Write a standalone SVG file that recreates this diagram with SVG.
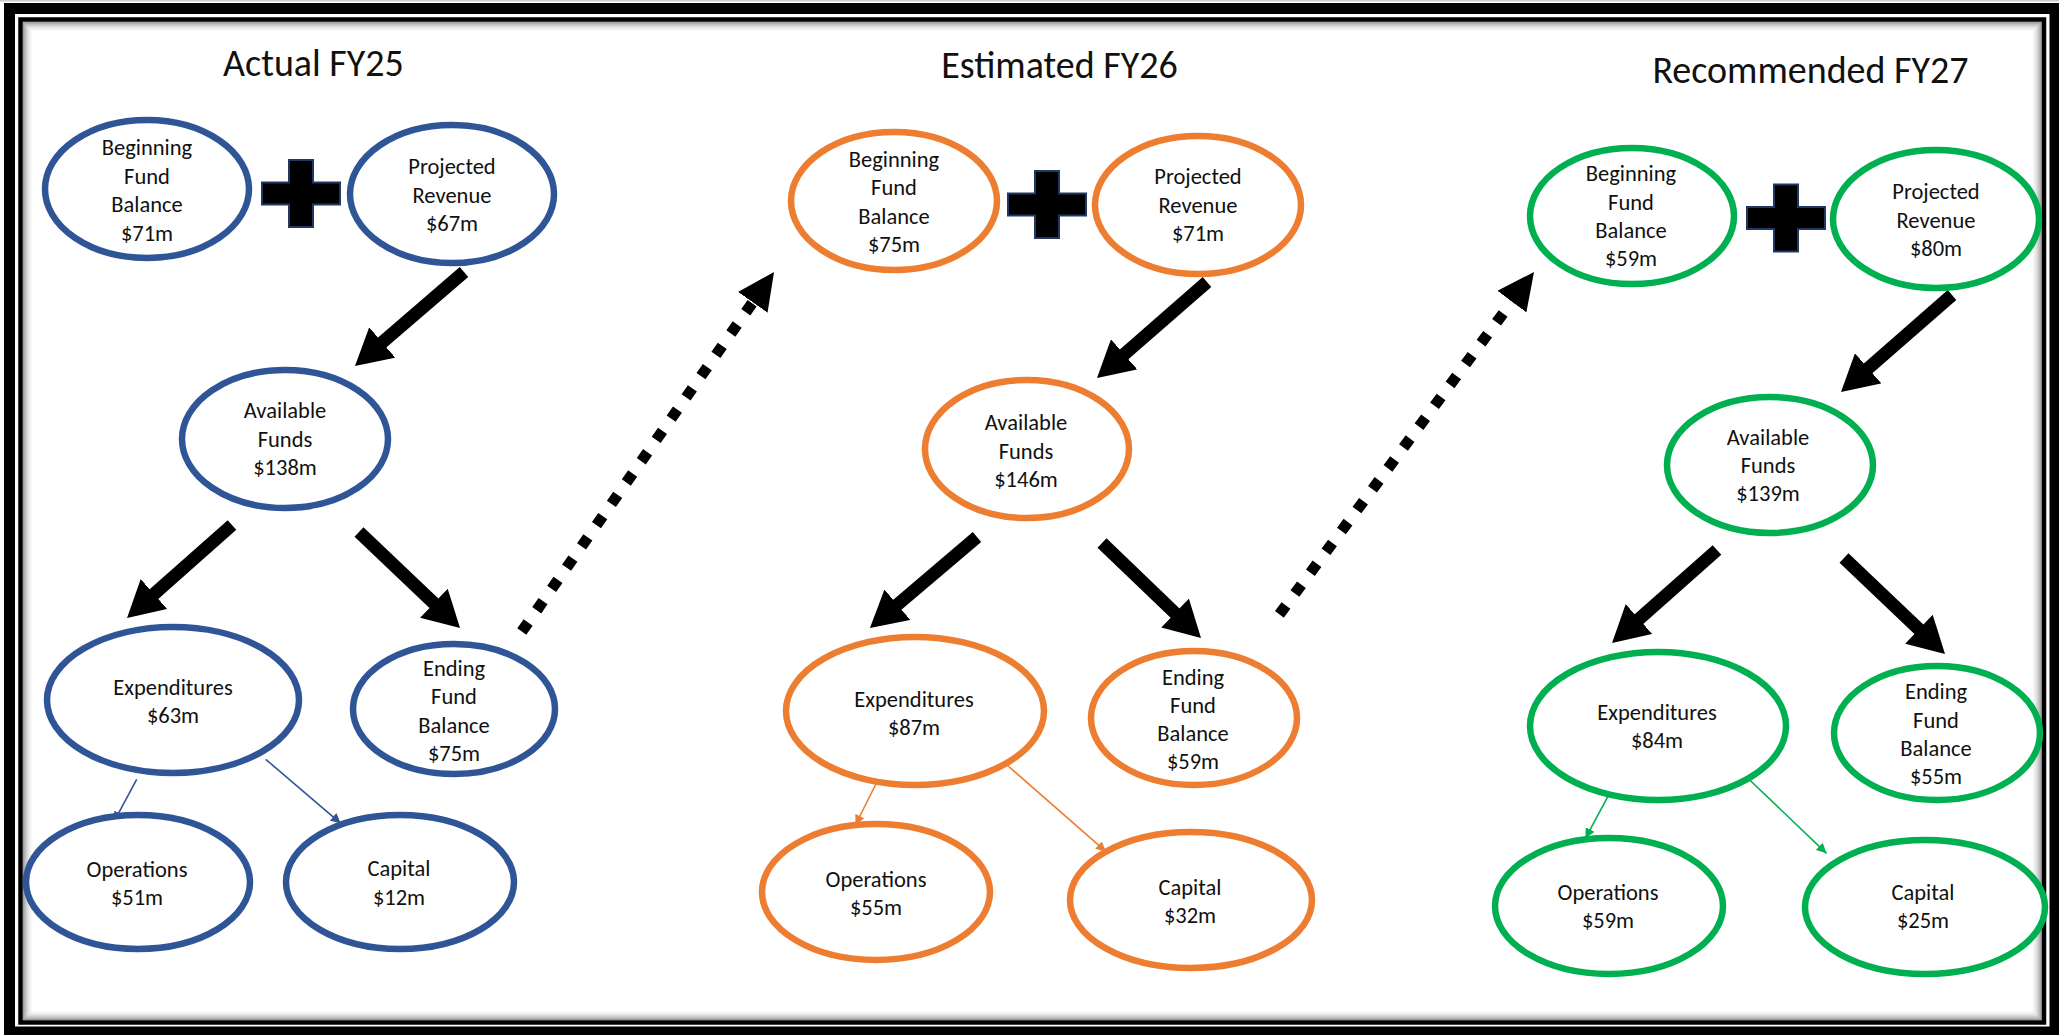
<svg xmlns="http://www.w3.org/2000/svg" width="2059" height="1035" viewBox="0 0 2059 1035">
<style>
  text { font-family: Carlito, Calibri, Lato, "Liberation Sans", sans-serif; fill: #111; text-anchor: middle; }
  .t { font-size: 22.5px; }
  .title { font-size: 38px; }
  ellipse { fill: #fff; stroke-width: 6.5; }
  .b ellipse { stroke: #2F5597; }
  .o ellipse { stroke: #ED7D31; }
  .g ellipse { stroke: #00B050; }
  .big { stroke: #000; stroke-width: 13; fill: none; marker-end: url(#bigHead); }
  .dot { stroke: #000; stroke-width: 11; fill: none; stroke-dasharray: 11 15; marker-end: url(#dotHead); }
  .thin { stroke-width: 1.6; fill: none; }
  .tb { stroke: #2F5597; marker-end: url(#thinB); }
  .to { stroke: #ED7D31; marker-end: url(#thinO); }
  .tg { stroke: #00B050; marker-end: url(#thinG); }
  .plus { fill: #000; stroke: #1F3864; stroke-width: 2; }
  .sh { fill: none; stroke: #000; stroke-width: 1; }
</style>
<defs>
  <marker id="bigHead" markerUnits="userSpaceOnUse" viewBox="0 0 36 40" markerWidth="36" markerHeight="40" refX="8" refY="20" orient="auto">
    <path d="M0,0 L36,20 L0,40 Z" fill="#000"/>
  </marker>
  <marker id="dotHead" markerUnits="userSpaceOnUse" viewBox="0 0 37 36" markerWidth="37" markerHeight="36" refX="11" refY="18" orient="auto">
    <path d="M0,0 L37,18 L0,36 Z" fill="#000"/>
  </marker>
  <marker id="thinB" markerUnits="userSpaceOnUse" viewBox="0 0 10 10" markerWidth="10" markerHeight="10" refX="10" refY="5" orient="auto">
    <path d="M0,0 L10,5 L0,10 Z" fill="#2F5597"/>
  </marker>
  <marker id="thinO" markerUnits="userSpaceOnUse" viewBox="0 0 10 10" markerWidth="10" markerHeight="10" refX="10" refY="5" orient="auto">
    <path d="M0,0 L10,5 L0,10 Z" fill="#ED7D31"/>
  </marker>
  <marker id="thinG" markerUnits="userSpaceOnUse" viewBox="0 0 10 10" markerWidth="10" markerHeight="10" refX="10" refY="5" orient="auto">
    <path d="M0,0 L10,5 L0,10 Z" fill="#00B050"/>
  </marker>
  <path id="plusShape" class="plus" d="M-12,-33.5 H12 V-11 H39 V11 H12 V33.5 H-12 V11 H-39 V-11 H-12 Z"/>
</defs>

<!-- background and frame -->
<rect x="0" y="0" width="2059" height="1035" fill="#fff"/>
<rect x="0" y="0" width="2059" height="1.5" fill="#c8c8c8"/>
<g id="frame">
  <rect x="9.5" y="8.5" width="2045.5" height="1023.5" fill="none" stroke="#000" stroke-width="11"/>
  <rect x="20.5" y="19.5" width="2023.5" height="1003" fill="none" stroke="#000" stroke-width="4.5"/>
  <rect class="sh" x="23.25" y="22.25" width="2018" height="997.5" stroke-opacity="0.42"/>
  <rect class="sh" x="24.25" y="23.25" width="2016" height="995.5" stroke-opacity="0.34"/>
  <rect class="sh" x="25.25" y="24.25" width="2014" height="993.5" stroke-opacity="0.27"/>
  <rect class="sh" x="26.25" y="25.25" width="2012" height="991.5" stroke-opacity="0.21"/>
  <rect class="sh" x="27.25" y="26.25" width="2010" height="989.5" stroke-opacity="0.16"/>
  <rect class="sh" x="28.25" y="27.25" width="2008" height="987.5" stroke-opacity="0.11"/>
  <rect class="sh" x="29.25" y="28.25" width="2006" height="985.5" stroke-opacity="0.08"/>
  <rect class="sh" x="30.25" y="29.25" width="2004" height="983.5" stroke-opacity="0.05"/>
  <rect class="sh" x="31.25" y="30.25" width="2002" height="981.5" stroke-opacity="0.03"/>
</g>

<!-- titles -->
<text class="title" x="313.5" y="76">Actual FY25</text>
<text class="title" x="1059.5" y="78">Estimated FY26</text>
<text class="title" x="1810.5" y="83">Recommended FY27</text>

<!-- plus signs -->
<use href="#plusShape" x="301" y="193.5"/>
<use href="#plusShape" x="1047" y="204.5"/>
<use href="#plusShape" x="1786" y="218"/>

<!-- connectors -->
<g id="connectors">
  <line class="big" x1="464" y1="272" x2="376.2" y2="347.7"/>
  <line class="big" x1="232" y1="525" x2="148" y2="599.4"/>
  <line class="big" x1="359" y1="532" x2="439.7" y2="608.7"/>
  <line class="big" x1="1207" y1="282" x2="1118.1" y2="359.6"/>
  <line class="big" x1="977" y1="537" x2="891.3" y2="609.9"/>
  <line class="big" x1="1102" y1="543" x2="1180.8" y2="618.6"/>
  <line class="big" x1="1952" y1="295" x2="1862.1" y2="373.6"/>
  <line class="big" x1="1717" y1="550" x2="1633" y2="624.4"/>
  <line class="big" x1="1844" y1="558" x2="1924.7" y2="634.7"/>

  <line class="dot" x1="521.8" y1="631.5" x2="759.1" y2="293.3"/>
  <line class="dot" x1="1279.4" y1="614.4" x2="1518.5" y2="292.8"/>

  <line class="thin tb" x1="136.7" y1="779.3" x2="114" y2="821.7"/>
  <line class="thin tb" x1="265.7" y1="759.3" x2="340.7" y2="823.3"/>
  <line class="thin to" x1="876.4" y1="783" x2="855.4" y2="825"/>
  <line class="thin to" x1="1007" y1="765" x2="1106" y2="851.7"/>
  <line class="thin tg" x1="1607.8" y1="796.7" x2="1585.4" y2="838.3"/>
  <line class="thin tg" x1="1749.7" y1="780" x2="1826.5" y2="853.3"/>
</g>

<!-- FY25 nodes -->
<g class="b">
  <g id="fy25-beginning">
    <ellipse cx="147" cy="189" rx="102" ry="69"/>
    <text class="t" x="147" y="155">Beginning</text>
    <text class="t" x="147" y="183.5">Fund</text>
    <text class="t" x="147" y="212">Balance</text>
    <text class="t" x="147" y="240.5">$71m</text>
  </g>
  <g id="fy25-revenue">
    <ellipse cx="452" cy="194" rx="102" ry="69"/>
    <text class="t" x="452" y="174">Projected</text>
    <text class="t" x="452" y="202.5">Revenue</text>
    <text class="t" x="452" y="231">$67m</text>
  </g>
  <g id="fy25-available">
    <ellipse cx="285" cy="439" rx="103" ry="69"/>
    <text class="t" x="285" y="418">Available</text>
    <text class="t" x="285" y="446.5">Funds</text>
    <text class="t" x="285" y="475">$138m</text>
  </g>
  <g id="fy25-expenditures">
    <ellipse cx="173" cy="700" rx="126" ry="73"/>
    <text class="t" x="173" y="695">Expenditures</text>
    <text class="t" x="173" y="723">$63m</text>
  </g>
  <g id="fy25-ending">
    <ellipse cx="454" cy="709" rx="101" ry="65"/>
    <text class="t" x="454" y="676">Ending</text>
    <text class="t" x="454" y="704">Fund</text>
    <text class="t" x="454" y="732.5">Balance</text>
    <text class="t" x="454" y="760.5">$75m</text>
  </g>
  <g id="fy25-operations">
    <ellipse cx="138" cy="882" rx="112" ry="67"/>
    <text class="t" x="137" y="877">Operations</text>
    <text class="t" x="137" y="905">$51m</text>
  </g>
  <g id="fy25-capital">
    <ellipse cx="400" cy="882" rx="114" ry="67"/>
    <text class="t" x="399" y="876">Capital</text>
    <text class="t" x="399" y="904.5">$12m</text>
  </g>
</g>

<!-- FY26 nodes -->
<g class="o">
  <g id="fy26-beginning">
    <ellipse cx="894" cy="201" rx="103" ry="69"/>
    <text class="t" x="894" y="167">Beginning</text>
    <text class="t" x="894" y="195">Fund</text>
    <text class="t" x="894" y="224">Balance</text>
    <text class="t" x="894" y="252">$75m</text>
  </g>
  <g id="fy26-revenue">
    <ellipse cx="1198" cy="205" rx="103" ry="69"/>
    <text class="t" x="1198" y="184">Projected</text>
    <text class="t" x="1198" y="212.5">Revenue</text>
    <text class="t" x="1198" y="241">$71m</text>
  </g>
  <g id="fy26-available">
    <ellipse cx="1027" cy="449" rx="102" ry="69"/>
    <text class="t" x="1026" y="430">Available</text>
    <text class="t" x="1026" y="458.5">Funds</text>
    <text class="t" x="1026" y="487">$146m</text>
  </g>
  <g id="fy26-expenditures">
    <ellipse cx="915" cy="711" rx="129" ry="74"/>
    <text class="t" x="914" y="707">Expenditures</text>
    <text class="t" x="914" y="735">$87m</text>
  </g>
  <g id="fy26-ending">
    <ellipse cx="1194" cy="718" rx="103" ry="67"/>
    <text class="t" x="1193" y="685">Ending</text>
    <text class="t" x="1193" y="713">Fund</text>
    <text class="t" x="1193" y="741">Balance</text>
    <text class="t" x="1193" y="768.5">$59m</text>
  </g>
  <g id="fy26-operations">
    <ellipse cx="876" cy="892" rx="114" ry="68"/>
    <text class="t" x="876" y="887">Operations</text>
    <text class="t" x="876" y="914.5">$55m</text>
  </g>
  <g id="fy26-capital">
    <ellipse cx="1191" cy="900" rx="121" ry="68"/>
    <text class="t" x="1190" y="895">Capital</text>
    <text class="t" x="1190" y="922.5">$32m</text>
  </g>
</g>

<!-- FY27 nodes -->
<g class="g">
  <g id="fy27-beginning">
    <ellipse cx="1632" cy="216" rx="102" ry="68"/>
    <text class="t" x="1631" y="181">Beginning</text>
    <text class="t" x="1631" y="209.5">Fund</text>
    <text class="t" x="1631" y="238">Balance</text>
    <text class="t" x="1631" y="266">$59m</text>
  </g>
  <g id="fy27-revenue">
    <ellipse cx="1936" cy="219" rx="103" ry="69"/>
    <text class="t" x="1936" y="199">Projected</text>
    <text class="t" x="1936" y="227.5">Revenue</text>
    <text class="t" x="1936" y="256">$80m</text>
  </g>
  <g id="fy27-available">
    <ellipse cx="1770" cy="465" rx="103" ry="68"/>
    <text class="t" x="1768" y="445">Available</text>
    <text class="t" x="1768" y="473">Funds</text>
    <text class="t" x="1768" y="501">$139m</text>
  </g>
  <g id="fy27-expenditures">
    <ellipse cx="1658" cy="726" rx="128" ry="74"/>
    <text class="t" x="1657" y="720">Expenditures</text>
    <text class="t" x="1657" y="747.5">$84m</text>
  </g>
  <g id="fy27-ending">
    <ellipse cx="1937" cy="733" rx="103" ry="67"/>
    <text class="t" x="1936" y="699">Ending</text>
    <text class="t" x="1936" y="727.5">Fund</text>
    <text class="t" x="1936" y="756">Balance</text>
    <text class="t" x="1936" y="784">$55m</text>
  </g>
  <g id="fy27-operations">
    <ellipse cx="1609" cy="906" rx="114" ry="68"/>
    <text class="t" x="1608" y="900">Operations</text>
    <text class="t" x="1608" y="927.5">$59m</text>
  </g>
  <g id="fy27-capital">
    <ellipse cx="1925" cy="907" rx="120" ry="67"/>
    <text class="t" x="1923" y="900">Capital</text>
    <text class="t" x="1923" y="927.5">$25m</text>
  </g>
</g>
</svg>
